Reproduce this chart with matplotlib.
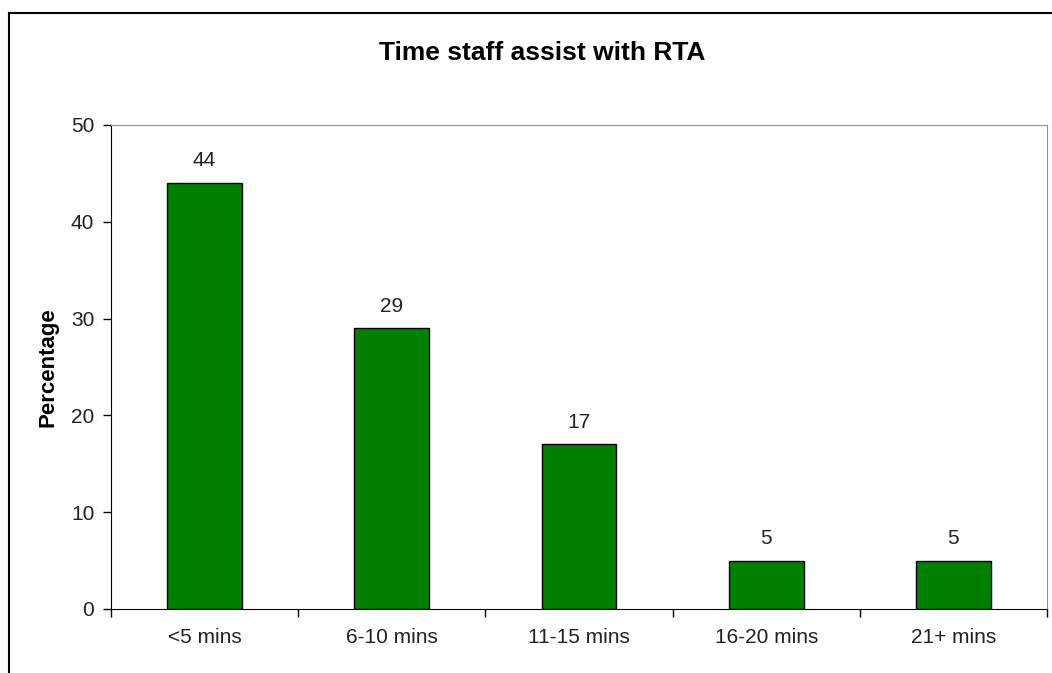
import matplotlib
matplotlib.use("Agg")
import matplotlib.pyplot as plt
from matplotlib.lines import Line2D

plt.rcParams["font.family"] = ["Liberation Sans", "DejaVu Sans"]

# Data
categories = ["<5 mins", "6-10 mins", "11-15 mins", "16-20 mins", "21+ mins"]
percentages = [44, 29, 17, 5, 5]
y_ticks = [0, 10, 20, 30, 40, 50]

fig = plt.figure(figsize=(10.52, 6.73), dpi=100)
ax = fig.add_axes([111 / 1052, 64 / 673, 936 / 1052, 484 / 673])

x = list(range(len(categories)))
ax.bar(x, percentages, width=0.4, color="#008000",
       edgecolor="black", linewidth=1)

for xi, v in zip(x, percentages):
    ax.text(xi, v + 1.3, str(v), ha="center", va="bottom",
            fontsize=15, color="#222222")

ax.set_xlim(-0.5, len(categories) - 0.5)
ax.set_ylim(0, 50)
ax.set_yticks(y_ticks)
ax.set_xticks(x)
ax.set_xticklabels(categories, fontsize=15, color="#222222")
ax.tick_params(axis="y", labelsize=15, labelcolor="#222222",
               length=6, width=1, pad=6)
ax.tick_params(axis="x", length=0, pad=14)

# category separator ticks
ax.set_xticks([i - 0.5 for i in range(len(categories) + 1)], minor=True)
ax.tick_params(axis="x", which="minor", length=6, width=1)

ax.spines["left"].set_color("black")
ax.spines["bottom"].set_color("black")
ax.spines["top"].set_color("#909090")
ax.spines["right"].set_color("#909090")

ax.set_ylabel("Percentage", fontsize=16, fontweight="bold", labelpad=9)
fig.text(542 / 1052, 1 - 53 / 673, "Time staff assist with RTA",
         ha="center", va="center", fontsize=19, fontweight="bold")

# outer chart border (only top and left visible)
fig.add_artist(Line2D([9 / 1052, 1.0], [1 - 13 / 673, 1 - 13 / 673],
                      transform=fig.transFigure, color="black", linewidth=1.5))
fig.add_artist(Line2D([9 / 1052, 9 / 1052], [0.0, 1 - 13 / 673],
                      transform=fig.transFigure, color="black", linewidth=1.5))

fig.savefig("out.png", dpi=100)
